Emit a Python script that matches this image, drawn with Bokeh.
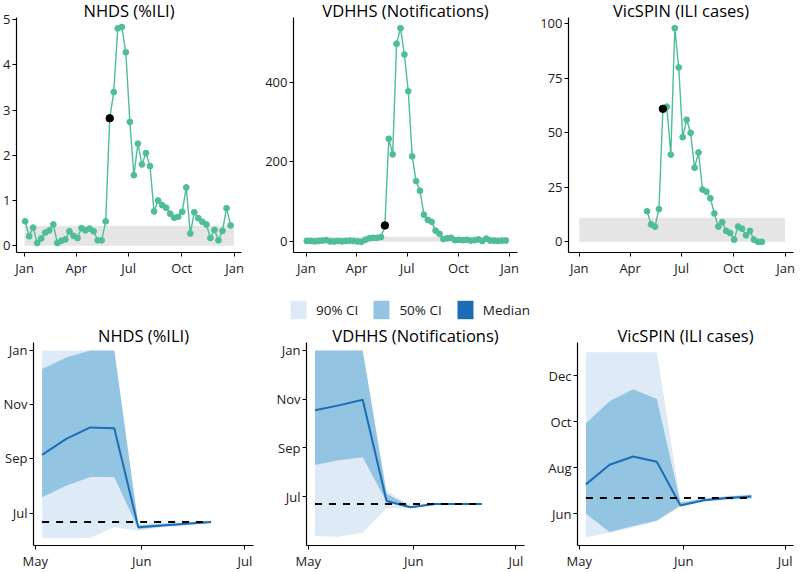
import pandas as pd
from bokeh.plotting import figure
from bokeh.layouts import column, row
from bokeh.models import Range1d, FixedTicker, DatetimeTickFormatter, Legend, LegendItem
from bokeh.embed import file_html
from bokeh.resources import INLINE

FONT = "Open Sans"
TEAL = "#4DBE96"
GREY = "#E5E5E5"
C90 = "#DEEBF7"
C50 = "#93C4E2"
CMED = "#1B6EB6"
TXT = "#1a1a1a"

# ---------------- top row: weekly surveillance series ----------------
nhds_start = "2017-01-02"
nhds_values = [0.54, 0.21, 0.40, 0.06, 0.16, 0.29, 0.34, 0.47, 0.06, 0.11,
               0.14, 0.32, 0.22, 0.17, 0.39, 0.34, 0.38, 0.32, 0.12, 0.12,
               0.54, 2.82, 3.40, 4.81, 4.84, 4.28, 2.74, 1.56, 2.26, 1.80,
               2.05, 1.76, 0.76, 1.00, 0.90, 0.84, 0.71, 0.62, 0.64, 0.75,
               1.29, 0.27, 0.74, 0.61, 0.53, 0.47, 0.17, 0.35, 0.12, 0.33,
               0.83, 0.45]
nhds_mark_index = 21
nhds_band = ["2017-01-01", "2017-12-31", 0.44]

vdhhs_start = "2017-01-02"
vdhhs_values = [2, 2, 1, 2, 3, 4, 1, 1, 2, 1, 2, 3, 2, 1, 0,
                5, 9, 10, 10, 12,
                41,
                258, 219, 496, 535, 469, 377, 214, 152, 128, 68, 55, 50, 28, 20,
                7, 9, 10, 4, 5, 4, 5, 3, 4, 6, 2, 8, 3, 3, 2, 3, 3]
vdhhs_mark_index = 20
vdhhs_band = ["2016-12-27", "2017-12-31", 13]

vicspin_start = "2017-05-01"
vicspin_values = [14, 8, 7, 15, 61, 62, 40, 98, 80, 48, 56, 50, 34, 41, 24,
                  23, 20, 13, 7, 9, 5, 4, 1, 7, 6, 3, 5, 1, 0, 0]
vicspin_mark_index = 4
vicspin_band = ["2017-01-01", "2017-12-31", 11]

top_xticks = ["2017-01-01", "2017-04-01", "2017-07-01", "2017-10-01", "2018-01-01"]
nhds_yticks = [0, 1, 2, 3, 4, 5]
vdhhs_yticks = [0, 200, 400]
vicspin_yticks = [0, 25, 50, 75, 100]

# ---------------- bottom row: peak-timing forecasts ----------------
forecast_dates = ["2017-05-03", "2017-05-10", "2017-05-17", "2017-05-24",
                  "2017-05-31", "2017-06-07", "2017-06-14", "2017-06-21"]

nhds_lo90 = ["2017-06-03", "2017-06-03", "2017-06-03", "2017-06-15", "2017-06-11", "2017-06-15", "2017-06-17", "2017-06-19"]
nhds_hi90 = ["2018-01-01", "2018-01-01", "2018-01-01", "2018-01-01", "2017-06-19", "2017-06-20", "2017-06-21", "2017-06-22"]
nhds_lo50 = ["2017-07-19", "2017-08-01", "2017-08-11", "2017-08-11", "2017-06-13", "2017-06-16", "2017-06-18", "2017-06-20"]
nhds_hi50 = ["2017-12-11", "2017-12-24", "2018-01-01", "2018-01-01", "2017-06-17", "2017-06-19", "2017-06-20", "2017-06-22"]
nhds_median = ["2017-09-05", "2017-09-23", "2017-10-06", "2017-10-05", "2017-06-15", "2017-06-17", "2017-06-19", "2017-06-21"]
nhds_peak = "2017-06-21"

vdhhs_lo90 = ["2017-05-13", "2017-05-12", "2017-05-17", "2017-06-17", "2017-06-17", "2017-06-20", "2017-06-21", "2017-06-21"]
vdhhs_hi90 = ["2018-01-01", "2018-01-01", "2018-01-01", "2017-07-09", "2017-06-20", "2017-06-23", "2017-06-23", "2017-06-23"]
vdhhs_lo50 = ["2017-08-10", "2017-08-16", "2017-08-20", "2017-06-25", "2017-06-17", "2017-06-21", "2017-06-21", "2017-06-21"]
vdhhs_hi50 = ["2018-01-01", "2018-01-01", "2018-01-01", "2017-07-05", "2017-06-19", "2017-06-22", "2017-06-22", "2017-06-23"]
vdhhs_median = ["2017-10-18", "2017-10-24", "2017-10-31", "2017-06-26", "2017-06-18", "2017-06-22", "2017-06-22", "2017-06-22"]
vdhhs_peak = "2017-06-22"

vicspin_lo90 = ["2017-05-01", "2017-05-07", "2017-05-14", "2017-05-22", "2017-06-11", "2017-06-17", "2017-06-19", "2017-06-21"]
vicspin_hi90 = ["2018-01-01", "2018-01-01", "2018-01-01", "2018-01-01", "2017-06-17", "2017-06-22", "2017-06-25", "2017-06-27"]
vicspin_lo50 = ["2017-06-01", "2017-05-08", "2017-05-16", "2017-05-23", "2017-06-12", "2017-06-18", "2017-06-21", "2017-06-22"]
vicspin_hi50 = ["2017-09-29", "2017-10-28", "2017-11-13", "2017-10-31", "2017-06-16", "2017-06-21", "2017-06-24", "2017-06-26"]
vicspin_median = ["2017-07-10", "2017-08-05", "2017-08-16", "2017-08-09", "2017-06-12", "2017-06-19", "2017-06-22", "2017-06-24"]
vicspin_peak = "2017-06-22"

bottom_xticks = ["2017-05-01", "2017-06-01", "2017-07-01"]
nhds_peak_yticks = ["2017-07-01", "2017-09-01", "2017-11-01", "2018-01-01"]
vdhhs_peak_yticks = ["2017-07-01", "2017-09-01", "2017-11-01", "2018-01-01"]
vicspin_peak_yticks = ["2017-06-01", "2017-08-01", "2017-10-01", "2017-12-01"]

legend_labels = ["90% CI", "50% CI", "Median"]


def T(s):
    return pd.Timestamp(s)


def ms(seq):
    return [pd.Timestamp(s).value / 1e6 for s in seq]


def month_fmt():
    f = "%b"
    return DatetimeTickFormatter(milliseconds=f, seconds=f, minsec=f, minutes=f,
                                 hourmin=f, hours=f, days=f, months=f, years=f)


def base_fig(title, w, h, left, right, bottom, xr, yr, ydt=False):
    p = figure(width=w, height=h, x_range=xr, y_range=yr, title=title,
               x_axis_type="datetime", y_axis_type="datetime" if ydt else "linear",
               output_backend="svg", toolbar_location=None,
               min_border_left=left, min_border_right=right,
               min_border_top=0, min_border_bottom=bottom)
    p.title.text_font = FONT
    p.title.text_font_size = "16.5px"
    p.title.text_font_style = "normal"
    p.title.text_color = "black"
    p.title.align = "center"
    p.title.standoff = -8
    p.title.offset = 0
    p.outline_line_color = None
    p.xgrid.visible = False
    p.ygrid.visible = False
    for ax in (p.xaxis[0], p.yaxis[0]):
        ax.axis_line_color = "black"
        ax.axis_line_width = 1.2
        ax.major_tick_line_color = "black"
        ax.major_tick_line_width = 1
        ax.major_tick_out = 4
        ax.major_tick_in = 0
        ax.minor_tick_line_color = None
        ax.major_label_text_font = FONT
        ax.major_label_text_font_size = "13px"
        ax.major_label_text_color = TXT
        ax.major_label_standoff = 2
    return p


def top_panel(title, start, values, mark_idx, band, yticks, xr, yr, w, left, right):
    p = base_fig(title, w, 280, left, right, 28, xr, yr)
    dates = pd.date_range(start, periods=len(values), freq="7D")
    p.quad(left=[T(band[0])], right=[T(band[1])], bottom=[0], top=[band[2]],
           fill_color=GREY, line_color=None)
    p.line(dates, values, line_color=TEAL, line_width=1.4)
    p.scatter(dates, values, size=5.8, color=TEAL)
    p.scatter([dates[mark_idx]], [values[mark_idx]], size=7.5, color="black")
    p.xaxis.ticker = FixedTicker(ticks=ms(top_xticks))
    p.xaxis.formatter = month_fmt()
    p.yaxis.ticker = FixedTicker(ticks=yticks)
    return p


def bottom_panel(title, lo90, hi90, lo50, hi50, med, peak, yticks, yr, w, left, right):
    xr = Range1d(T("2017-04-30 12:00"), T("2017-07-03 12:00"))
    p = base_fig(title, w, 247, left, right, 21, xr, yr, ydt=True)
    x = pd.to_datetime(forecast_dates)
    p.varea(x=x, y1=pd.to_datetime(lo90), y2=pd.to_datetime(hi90), fill_color=C90)
    p.varea(x=x, y1=pd.to_datetime(lo50), y2=pd.to_datetime(hi50), fill_color=C50)
    p.line(x, pd.to_datetime(med), line_color=CMED, line_width=2)
    p.line([x[0], x[-1]], [T(peak), T(peak)], line_color="black", line_width=2,
           line_dash="7 7")
    p.xaxis.ticker = FixedTicker(ticks=ms(bottom_xticks))
    p.xaxis.formatter = month_fmt()
    p.yaxis.ticker = FixedTicker(ticks=ms(yticks))
    p.yaxis.formatter = month_fmt()
    return p


f1 = top_panel("NHDS (%ILI)", nhds_start, nhds_values, nhds_mark_index, nhds_band,
               nhds_yticks, Range1d(T("2016-12-18"), T("2018-01-13")), Range1d(-0.15, 5.05),
               262, 16, 21)
f2 = top_panel("VDHHS (Notifications)", vdhhs_start, vdhhs_values, vdhhs_mark_index, vdhhs_band,
               vdhhs_yticks, Range1d(T("2016-12-09"), T("2018-01-15")), Range1d(-26.75, 561.75),
               275, 29, 20)
f3 = top_panel("VicSPIN (ILI cases)", vicspin_start, vicspin_values, vicspin_mark_index, vicspin_band,
               vicspin_yticks, Range1d(T("2016-12-13"), T("2018-01-15")), Range1d(-4.9, 102.9),
               263, 29, 7)

f4 = bottom_panel("NHDS (%ILI)", nhds_lo90, nhds_hi90, nhds_lo50, nhds_hi50, nhds_median,
                  nhds_peak, nhds_peak_yticks, Range1d(T("2017-05-25 12:00"), T("2018-01-10")),
                  273, 30, 20)
f5 = bottom_panel("VDHHS (Notifications)", vdhhs_lo90, vdhhs_hi90, vdhhs_lo50, vdhhs_hi50, vdhhs_median,
                  vdhhs_peak, vdhhs_peak_yticks, Range1d(T("2017-05-01"), T("2018-01-11")),
                  272, 28, 21)
f6 = bottom_panel("VicSPIN (ILI cases)", vicspin_lo90, vicspin_hi90, vicspin_lo50, vicspin_hi50, vicspin_median,
                  vicspin_peak, vicspin_peak_yticks, Range1d(T("2017-04-20"), T("2018-01-14")),
                  255, 28, 7)

# ---------------- shared legend ----------------
leg = figure(width=800, height=45, x_range=Range1d(0, 1), y_range=Range1d(0, 1),
             output_backend="svg", toolbar_location=None,
             x_axis_location=None, y_axis_location=None,
             min_border=0)
leg.outline_line_color = None
leg.xgrid.visible = False
leg.ygrid.visible = False
items = []
for lab, col in zip(legend_labels, [C90, C50, CMED]):
    r = leg.quad(left=[0], right=[0], bottom=[0], top=[0], fill_color=col, line_color=None)
    items.append(LegendItem(label=lab, renderers=[r]))
legend = Legend(items=items, orientation="horizontal", location=(288, 4),
                glyph_width=20, glyph_height=23, label_height=23,
                label_standoff=8, spacing=13, padding=0, margin=0,
                border_line_color=None, background_fill_alpha=0,
                label_text_font=FONT, label_text_font_size="13.5px",
                label_text_color=TXT)
leg.add_layout(legend, "center")

layout = column(row(f1, f2, f3), leg, row(f4, f5, f6))

open("out.html", "w").write(file_html(layout, INLINE))
